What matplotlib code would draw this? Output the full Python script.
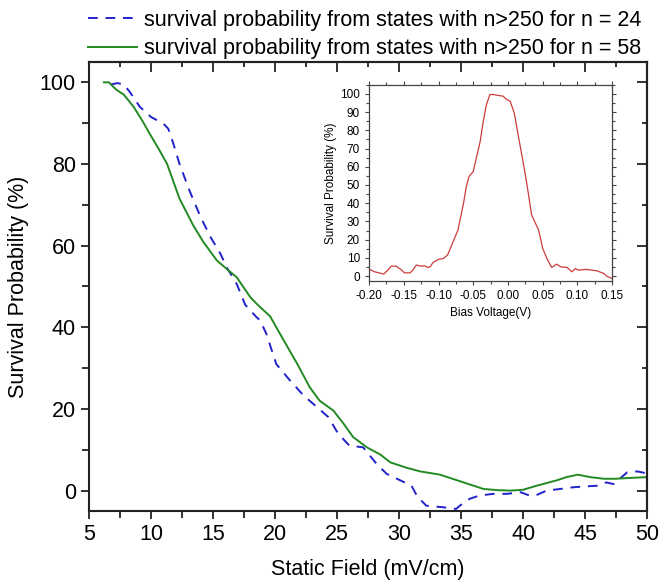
import matplotlib
matplotlib.use('Agg')
import matplotlib.pyplot as plt
from matplotlib.ticker import MultipleLocator, FormatStrFormatter

plt.rcParams['font.family'] = ['Liberation Sans', 'DejaVu Sans']

# main plot data: survival probability vs static field
field_n24 = [6.8, 7.3, 7.8, 8.3, 9.1, 10.0, 11.0, 11.4, 11.8, 12.3, 13.1, 14.0, 14.8,
             15.6, 16.1, 16.9, 17.6, 18.5, 18.8, 19.3, 20.1, 21.2, 22.3, 23.4, 24.3,
             25.1, 26.0, 27.1, 28.2, 29.0, 30.1, 31.0, 31.5, 32.2, 33.6, 34.6, 34.9,
             35.7, 36.5, 37.6, 38.7, 39.8, 40.5, 41.0, 41.9, 43.0, 44.0, 44.9, 46.0,
             46.7, 47.3, 47.8, 48.4, 49.2, 50.0]
surv_n24 = [99.5, 99.8, 99.5, 97.6, 94.0, 91.5, 89.9, 88.6, 85.0, 80.0, 73.5, 67.0, 62.1,
            58.0, 54.7, 50.7, 45.5, 42.5, 41.7, 38.4, 31.0, 27.0, 23.3, 20.4, 18.0,
            13.9, 11.0, 10.6, 6.5, 4.1, 2.5, 1.2, -1.6, -3.7, -4.1, -4.5, -3.7,
            -2.0, -1.2, -0.8, -0.8, -0.4, -1.2, -1.2, 0.0, 0.4, 0.8, 1.0, 1.2,
            2.0, 1.6, 2.9, 4.5, 4.7, 4.2]

field_n58 = [6.2, 6.6, 7.2, 7.8, 8.6, 9.3, 9.9, 10.6, 11.3, 12.3, 13.4, 14.2, 15.3,
             16.1, 16.9, 18.0, 18.5, 19.6, 20.7, 21.8, 22.8, 23.6, 24.7, 25.5, 26.3,
             27.4, 28.5, 29.3, 30.6, 31.7, 33.3, 34.9, 35.8, 36.8, 38.0, 39.0, 40.0,
             41.1, 42.7, 43.5, 44.4, 45.4, 46.5, 47.5, 48.6, 50.0]
surv_n58 = [100, 100, 98.2, 97.0, 94.0, 90.6, 87.4, 83.8, 80.0, 71.5, 65.0, 61.0, 56.4,
            54.3, 52.3, 47.4, 45.8, 42.7, 36.8, 31.0, 25.3, 22.0, 19.6, 16.5, 13.1,
            10.6, 8.8, 6.9, 5.6, 4.7, 3.9, 2.3, 1.4, 0.4, 0.1, 0.0, 0.2,
            1.2, 2.5, 3.3, 3.9, 3.3, 2.9, 2.9, 3.1, 3.3]

# inset data: survival probability vs bias voltage
bias = [-0.200, -0.192, -0.182, -0.179, -0.173, -0.168, -0.161, -0.153, -0.149, -0.141,
        -0.137, -0.132, -0.125, -0.120, -0.116, -0.112, -0.108, -0.100, -0.093, -0.087,
        -0.084, -0.079, -0.072, -0.064, -0.060, -0.056, -0.050, -0.045, -0.040, -0.036,
        -0.031, -0.026, -0.021, -0.014, -0.007, -0.002, 0.003, 0.009, 0.015, 0.022,
        0.027, 0.034, 0.044, 0.050, 0.057, 0.063, 0.070, 0.076, 0.085, 0.092,
        0.097, 0.101, 0.113, 0.128, 0.138, 0.142, 0.150]
surv_bias = [3.9, 2.4, 1.5, 1.1, 3.3, 5.5, 5.5, 3.3, 1.8, 1.8,
             3.3, 6.1, 5.5, 5.7, 4.8, 5.1, 7.5, 9.2, 9.7, 11.6,
             14.3, 18.9, 25.3, 40.0, 49.2, 54.7, 57.4, 65.7, 73.9, 84.0,
             94.1, 99.6, 99.6, 99.1, 98.7, 96.9, 96.0, 89.5, 76.7, 62.0,
             51.0, 33.6, 25.3, 15.2, 8.8, 4.8, 6.6, 5.1, 4.8, 2.4,
             4.2, 3.3, 3.7, 2.9, 1.5, 0.0, -1.3]

fig = plt.figure(figsize=(6.59, 5.84), dpi=100)
ax = fig.add_axes([0.135, 0.125, 0.847, 0.769])

l1, = ax.plot(field_n24, surv_n24, color='#2222cc', lw=1.4, dashes=(5, 4))
l2, = ax.plot(field_n58, surv_n58, color='#238a23', lw=1.4)

ax.set_xlim(5, 50)
ax.set_ylim(-5, 105)
ax.xaxis.set_major_locator(MultipleLocator(5))
ax.xaxis.set_minor_locator(MultipleLocator(2.5))
ax.yaxis.set_major_locator(MultipleLocator(20))
ax.yaxis.set_minor_locator(MultipleLocator(10))
ax.tick_params(which='both', direction='out', labelsize=15.5, width=1.3, color='#222222')
ax.tick_params(which='major', length=6)
ax.tick_params(which='minor', length=5)
for s in ax.spines.values():
    s.set_linewidth(1.5)
    s.set_color('#222222')

# top / right ticks point inward
top = ax.secondary_xaxis('top')
top.xaxis.set_major_locator(MultipleLocator(5))
top.xaxis.set_minor_locator(MultipleLocator(2.5))
top.tick_params(which='both', direction='in', labeltop=False, width=1.3, color='#222222')
top.tick_params(which='major', length=7)
top.tick_params(which='minor', length=3.5)
right = ax.secondary_yaxis('right')
right.yaxis.set_major_locator(MultipleLocator(20))
right.yaxis.set_minor_locator(MultipleLocator(10))
right.tick_params(which='both', direction='in', labelright=False, width=1.3, color='#222222')
right.tick_params(which='major', length=7)
right.tick_params(which='minor', length=3.5)
for sec in (top, right):
    for s in sec.spines.values():
        s.set_linewidth(1.5)
        s.set_color('#222222')

ax.set_xlabel('Static Field (mV/cm)', fontsize=15.5, labelpad=10)
ax.set_ylabel('Survival Probability (%)', fontsize=15.5, labelpad=8)

fig.legend([l1, l2],
           ['survival probability from states with n>250 for n = 24',
            'survival probability from states with n>250 for n = 58'],
           loc='upper left', bbox_to_anchor=(0.133, 0.983), frameon=False,
           fontsize=15.5, handlelength=2.3, handletextpad=0.3, labelspacing=0.35,
           borderpad=0, borderaxespad=0)

# inset
ins = fig.add_axes([0.560, 0.519, 0.369, 0.336])
ins.plot(bias, surv_bias, color='#cc3c3c', lw=0.9)
ins.set_xlim(-0.20, 0.15)
ins.set_ylim(-2.6, 105)
ins.xaxis.set_major_locator(MultipleLocator(0.05))
ins.xaxis.set_minor_locator(MultipleLocator(0.025))
ins.xaxis.set_major_formatter(FormatStrFormatter('%.2f'))
ins.yaxis.set_major_locator(MultipleLocator(10))
ins.yaxis.set_minor_locator(MultipleLocator(5))
ins.tick_params(which='both', direction='out', labelsize=8.5, width=0.8, color='#444444',
                top=True, right=True)
ins.tick_params(which='major', length=3)
ins.tick_params(which='minor', length=2)
for s in ins.spines.values():
    s.set_linewidth(0.9)
    s.set_color('#444444')
ins.set_xlabel('Bias Voltage(V)', fontsize=8.5, labelpad=4)
ins.set_ylabel('Survival Probability (%)', fontsize=8.5, labelpad=2)

fig.savefig('out.png', dpi=100)
